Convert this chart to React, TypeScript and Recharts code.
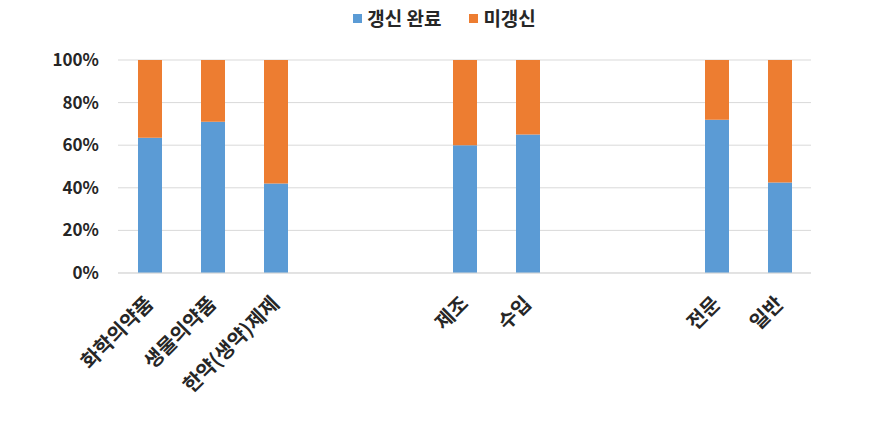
import React from 'react'
import { BarChart, Bar, XAxis, YAxis, CartesianGrid, Legend } from 'recharts'

// category slots: empty names are spacer slots between the three groups
const categories = ['화학의약품', '생물의약품', '한약(생약)제제', '', '', '제조', '수입', '', '', '전문', '일반']
const renewedValues = [63.5, 71, 42, null, null, 60, 65, null, null, 72, 42.5]
const notRenewedValues = [36.5, 29, 58, null, null, 40, 35, null, null, 28, 57.5]
const yTicks = [0, 20, 40, 60, 80, 100]

const BLUE = '#5B9BD5'
const ORANGE = '#ED7D31'
const FONT = '"Noto Sans CJK KR", "Noto Sans", sans-serif'
const TEXT = '#262626'

const data = categories.map((name, i) => ({
  name,
  renewed: renewedValues[i],
  notRenewed: notRenewedValues[i],
}))

const XTick = (props: any) => {
  const { x, y, payload } = props
  if (!payload.value) return null
  const tx = x + 5
  const ty = y + 24
  return (
    <text
      x={tx}
      y={ty}
      transform={`rotate(-45, ${tx}, ${ty})`}
      textAnchor="end"
      fontFamily={FONT}
      fontWeight={700}
      fontSize={20}
      fill={TEXT}
    >
      {payload.value}
    </text>
  )
}

const LegendContent = () => (
  <div
    style={{
      height: 52,
      display: 'flex',
      justifyContent: 'center',
      alignItems: 'flex-start',
      fontFamily: FONT,
      fontWeight: 700,
      fontSize: 19,
      color: TEXT,
      lineHeight: '20px',
    }}
  >
    {[
      { label: '갱신 완료', color: BLUE },
      { label: '미갱신', color: ORANGE },
    ].map((item) => (
      <div key={item.label} style={{ display: 'flex', alignItems: 'center', margin: '0 14px' }}>
        <span style={{ width: 9, height: 9, background: item.color, marginRight: 5, display: 'inline-block' }} />
        <span>{item.label}</span>
      </div>
    ))}
  </div>
)

export default function App() {
  return (
    <div style={{ position: 'absolute', left: 0, top: 0, width: 889, height: 421, background: '#fff' }}>
      <BarChart width={889} height={421} data={data} margin={{ top: 8, right: 78, left: 0, bottom: 0 }}>
        <CartesianGrid stroke="#d9d9d9" vertical={false} />
        <Legend
          verticalAlign="top"
          align="center"
          content={<LegendContent />}
          wrapperStyle={{ left: 0, width: 889 }}
        />
        <XAxis
          dataKey="name"
          height={148}
          interval={0}
          tickLine={false}
          axisLine={{ stroke: '#d9d9d9' }}
          tick={<XTick />}
        />
        <YAxis
          width={118}
          domain={[0, 100]}
          ticks={yTicks}
          tickFormatter={(v: number) => `${v}%`}
          axisLine={false}
          tickLine={false}
          tickMargin={13}
          tick={{ fontFamily: FONT, fontWeight: 700, fontSize: 17, fill: TEXT }}
        />
        <Bar dataKey="renewed" stackId="a" fill={BLUE} barSize={24} isAnimationActive={false} />
        <Bar dataKey="notRenewed" stackId="a" fill={ORANGE} barSize={24} isAnimationActive={false} />
      </BarChart>
    </div>
  )
}
